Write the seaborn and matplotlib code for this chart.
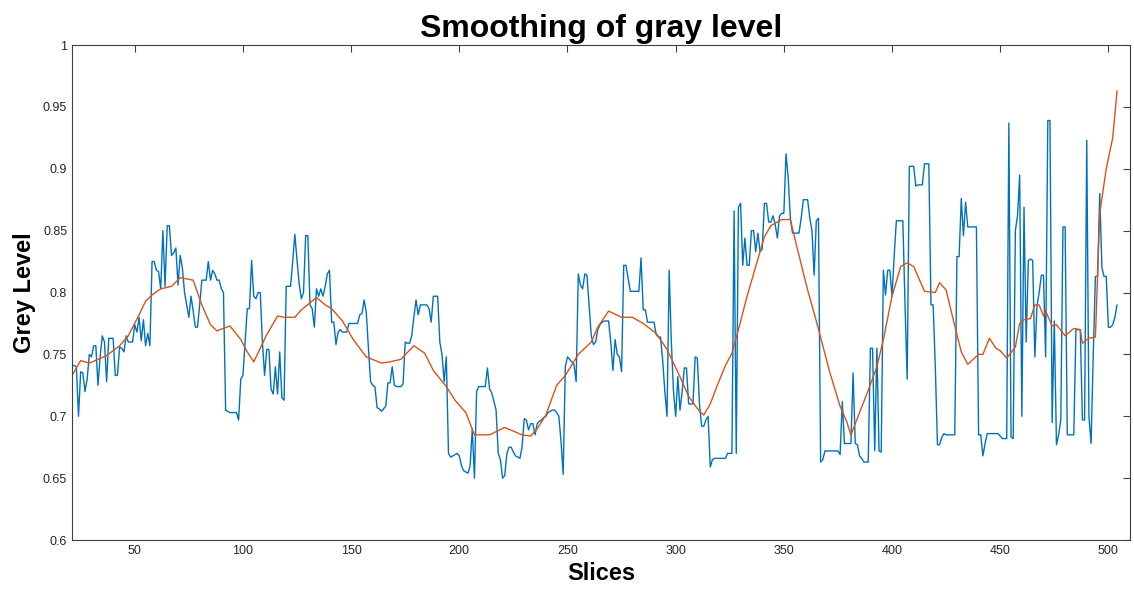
import numpy as np
import seaborn as sns
import matplotlib
matplotlib.use("Agg")
import matplotlib.pyplot as plt
from matplotlib.ticker import FuncFormatter

# raw grey level per slice (slices 21..504)
first_slice = 21
grey = [
    0.741, 0.741, 0.740, 0.700, 0.736, 0.735, 0.720, 0.730, 0.750, 0.748,  # 21
    0.757, 0.757, 0.725, 0.748, 0.765, 0.760, 0.728, 0.763, 0.763, 0.763,  # 31
    0.733, 0.733, 0.756, 0.755, 0.752, 0.765, 0.760, 0.760, 0.760, 0.774,  # 41
    0.768, 0.780, 0.761, 0.778, 0.757, 0.767, 0.757, 0.825, 0.825, 0.818,  # 51
    0.817, 0.803, 0.850, 0.805, 0.854, 0.854, 0.830, 0.832, 0.836, 0.806,  # 61
    0.830, 0.820, 0.800, 0.790, 0.780, 0.797, 0.785, 0.772, 0.772, 0.790,  # 71
    0.810, 0.810, 0.810, 0.825, 0.810, 0.818, 0.815, 0.810, 0.810, 0.803,  # 81
    0.800, 0.705, 0.704, 0.703, 0.703, 0.703, 0.703, 0.697, 0.730, 0.733,  # 91
    0.760, 0.787, 0.787, 0.826, 0.797, 0.795, 0.800, 0.800, 0.760, 0.733,  # 101
    0.754, 0.754, 0.722, 0.718, 0.740, 0.718, 0.752, 0.715, 0.713, 0.805,  # 111
    0.805, 0.805, 0.825, 0.847, 0.826, 0.807, 0.795, 0.800, 0.846, 0.846,  # 121
    0.790, 0.787, 0.772, 0.803, 0.797, 0.803, 0.797, 0.805, 0.815, 0.818,  # 131
    0.776, 0.776, 0.758, 0.768, 0.770, 0.768, 0.768, 0.768, 0.775, 0.775,  # 141
    0.775, 0.775, 0.775, 0.782, 0.783, 0.794, 0.784, 0.755, 0.728, 0.725,  # 151
    0.724, 0.707, 0.706, 0.704, 0.706, 0.708, 0.727, 0.727, 0.740, 0.725,  # 161
    0.724, 0.724, 0.724, 0.726, 0.760, 0.759, 0.759, 0.765, 0.780, 0.794,  # 171
    0.782, 0.790, 0.790, 0.790, 0.790, 0.787, 0.776, 0.797, 0.797, 0.797,  # 181
    0.760, 0.750, 0.728, 0.748, 0.670, 0.667, 0.668, 0.669, 0.670, 0.668,  # 191
    0.660, 0.656, 0.655, 0.654, 0.660, 0.690, 0.650, 0.720, 0.724, 0.724,  # 201
    0.724, 0.724, 0.739, 0.722, 0.719, 0.712, 0.705, 0.670, 0.665, 0.650,  # 211
    0.652, 0.670, 0.675, 0.675, 0.671, 0.668, 0.667, 0.666, 0.675, 0.698,  # 221
    0.697, 0.689, 0.694, 0.694, 0.685, 0.694, 0.696, 0.697, 0.699, 0.700,  # 231
    0.703, 0.704, 0.705, 0.705, 0.703, 0.700, 0.680, 0.653, 0.740, 0.748,  # 241
    0.746, 0.744, 0.742, 0.728, 0.815, 0.806, 0.803, 0.815, 0.814, 0.790,  # 251
    0.765, 0.758, 0.760, 0.770, 0.774, 0.776, 0.777, 0.777, 0.777, 0.760,  # 261
    0.737, 0.762, 0.750, 0.748, 0.736, 0.822, 0.822, 0.812, 0.801, 0.801,  # 271
    0.801, 0.801, 0.801, 0.828, 0.786, 0.786, 0.776, 0.776, 0.776, 0.776,  # 281
    0.766, 0.764, 0.764, 0.745, 0.720, 0.700, 0.818, 0.760, 0.720, 0.700,  # 291
    0.732, 0.705, 0.720, 0.739, 0.739, 0.710, 0.710, 0.710, 0.748, 0.747,  # 301
    0.710, 0.692, 0.692, 0.697, 0.700, 0.659, 0.665, 0.666, 0.666, 0.666,  # 311
    0.666, 0.666, 0.666, 0.670, 0.670, 0.670, 0.866, 0.670, 0.869, 0.872,  # 321
    0.822, 0.844, 0.822, 0.822, 0.850, 0.850, 0.833, 0.848, 0.833, 0.835,  # 331
    0.872, 0.872, 0.857, 0.857, 0.862, 0.855, 0.844, 0.862, 0.864, 0.864,  # 341
    0.912, 0.893, 0.860, 0.848, 0.848, 0.848, 0.848, 0.860, 0.875, 0.875,  # 351
    0.875, 0.860, 0.850, 0.814, 0.858, 0.860, 0.663, 0.665, 0.672, 0.672,  # 361
    0.672, 0.672, 0.672, 0.672, 0.672, 0.669, 0.712, 0.678, 0.678, 0.678,  # 371
    0.678, 0.735, 0.678, 0.677, 0.668, 0.666, 0.663, 0.663, 0.663, 0.755,  # 381
    0.755, 0.672, 0.755, 0.672, 0.671, 0.818, 0.798, 0.818, 0.818, 0.797,  # 391
    0.830, 0.858, 0.858, 0.858, 0.858, 0.790, 0.730, 0.902, 0.902, 0.902,  # 401
    0.886, 0.887, 0.887, 0.887, 0.904, 0.904, 0.904, 0.790, 0.790, 0.740,  # 411
    0.677, 0.677, 0.683, 0.686, 0.685, 0.685, 0.685, 0.685, 0.685, 0.829,  # 421
    0.829, 0.876, 0.846, 0.873, 0.853, 0.853, 0.853, 0.853, 0.853, 0.685,  # 431
    0.685, 0.668, 0.678, 0.686, 0.686, 0.686, 0.686, 0.686, 0.686, 0.684,  # 441
    0.682, 0.682, 0.682, 0.937, 0.683, 0.682, 0.850, 0.862, 0.895, 0.700,  # 451
    0.869, 0.760, 0.826, 0.827, 0.826, 0.748, 0.789, 0.800, 0.814, 0.814,  # 461
    0.748, 0.939, 0.939, 0.695, 0.777, 0.677, 0.685, 0.697, 0.853, 0.853,  # 471
    0.685, 0.685, 0.685, 0.685, 0.770, 0.770, 0.770, 0.697, 0.697, 0.923,  # 481
    0.700, 0.678, 0.750, 0.813, 0.813, 0.880, 0.820, 0.813, 0.813, 0.772,  # 491
    0.772, 0.774, 0.780, 0.790,                                            # 501
]

# smoothed curve, sampled along its path
smooth_slices = [21, 25, 29, 37, 43, 47, 52, 55, 58, 62, 67, 71, 77, 81, 85, 88,
                 94, 99, 102, 105, 111, 116, 119, 124, 127, 134, 138, 141, 146,
                 151, 157, 164, 168, 173, 179, 184, 188, 194, 198, 203, 207, 214,
                 221, 229, 233, 236, 240, 245, 249, 255, 261, 264, 269, 275, 280,
                 285, 291, 296, 302, 306, 311, 313, 316, 319, 323, 326, 329, 333,
                 337, 341, 344, 349, 353, 356, 361, 365, 371, 376, 379, 381, 385,
                 389, 393, 396, 400, 404, 407, 410, 415, 420, 422, 425, 429, 432,
                 435, 440, 442, 445, 448, 450, 453, 457, 459, 461, 464, 466, 468,
                 470, 471, 474, 476, 480, 484, 487, 488, 491, 494, 496, 499, 502, 504]
smooth_vals = [0.733, 0.745, 0.743, 0.749, 0.757, 0.765, 0.782, 0.793, 0.798, 0.803,
               0.805, 0.812, 0.810, 0.790, 0.774, 0.769, 0.773, 0.762, 0.752, 0.744,
               0.766, 0.781, 0.780, 0.780, 0.786, 0.796, 0.790, 0.787, 0.777, 0.762,
               0.748, 0.743, 0.744, 0.746, 0.757, 0.751, 0.737, 0.724, 0.713, 0.703,
               0.685, 0.685, 0.691, 0.685, 0.684, 0.690, 0.701, 0.725, 0.733, 0.750,
               0.760, 0.772, 0.785, 0.780, 0.780, 0.775, 0.767, 0.754, 0.732, 0.716,
               0.704, 0.701, 0.710, 0.724, 0.741, 0.751, 0.770, 0.797, 0.821, 0.845,
               0.854, 0.859, 0.859, 0.837, 0.802, 0.777, 0.737, 0.708, 0.696, 0.685,
               0.703, 0.721, 0.740, 0.762, 0.797, 0.821, 0.824, 0.821, 0.801, 0.800,
               0.808, 0.802, 0.773, 0.752, 0.742, 0.750, 0.750, 0.763, 0.755, 0.753,
               0.747, 0.756, 0.775, 0.778, 0.779, 0.790, 0.790, 0.781, 0.785, 0.773,
               0.774, 0.765, 0.771, 0.770, 0.759, 0.763, 0.764, 0.864, 0.900, 0.925, 0.963]

x_ticks = [50, 100, 150, 200, 250, 300, 350, 400, 450, 500]
y_ticks = [0.6, 0.65, 0.7, 0.75, 0.8, 0.85, 0.9, 0.95, 1.0]

sns.set_style("white")
plt.rcParams['font.family'] = ['Liberation Sans', 'DejaVu Sans']

slices = np.arange(first_slice, first_slice + len(grey))

fig = plt.figure(figsize=(11.34, 5.9), dpi=100)
ax = fig.add_axes([0.0635, 0.0847, 0.933, 0.839])

sns.lineplot(x=slices, y=grey, ax=ax, color='#0072BD', linewidth=1.0)
sns.lineplot(x=smooth_slices, y=smooth_vals, ax=ax, color='#D95319', linewidth=1.0)

ax.set_xlim(21, 510)
ax.set_ylim(0.6, 1.0)
ax.set_xticks(x_ticks)
ax.set_yticks(y_ticks)
ax.yaxis.set_major_formatter(FuncFormatter(lambda v, _: f"{v:g}"))
ax.tick_params(direction='in', length=5, width=0.8, colors='#404040',
               labelcolor='#262626', labelsize=9, top=True, right=True,
               labeltop=False, labelright=False)
for sp in ax.spines.values():
    sp.set_color('#404040')
    sp.set_linewidth(0.8)

ax.set_title('Smoothing of gray level', fontsize=23, fontweight='bold', pad=6,
             color='black')
ax.set_xlabel('Slices', fontsize=17, fontweight='bold', labelpad=4, color='black')
ax.set_ylabel('Grey Level', fontsize=17, fontweight='bold', labelpad=5, color='black')

fig.savefig('out.png', dpi=100)
